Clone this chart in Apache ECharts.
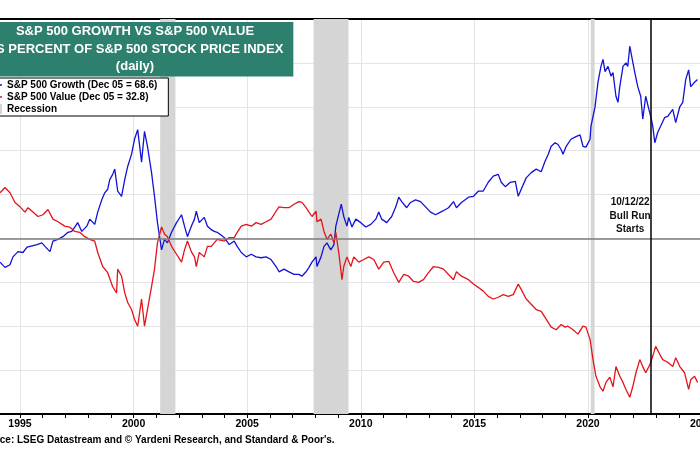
<!DOCTYPE html>
<html><head><meta charset="utf-8">
<script src="https://cdn.jsdelivr.net/npm/echarts@6/dist/echarts.min.js"></script>
<style>html,body{margin:0;padding:0;background:#fff}#c{width:700px;height:450px}</style>
</head><body><div id="c"></div>
<script>
// ---- data (decimal year, % of S&P 500 price index) ----
const growthName = 'S&P 500 Growth (Dec 05 = 68.6)';
const valueName = 'S&P 500 Value (Dec 05 = 32.8)';
const recessionName = 'Recession';
const titleLines = ['S&P 500 GROWTH VS S&P 500 VALUE', 'AS PERCENT OF S&P 500 STOCK PRICE INDEX', '(daily)'];
const sourceText = "Source: LSEG Datastream and \u00A9 Yardeni Research, and Standard & Poor's.";
const bullRunDate = 2022.78;
const bullRunLabel = ['10/12/22', 'Bull Run', 'Starts'];
const recessions = [[2001.17, 2001.84], [2007.92, 2009.46], [2020.12, 2020.29]];
const referenceLevel = 50;

const growth = [
[1994.12,47.3],[1994.34,46.7],[1994.56,47.0],[1994.69,47.9],[1994.91,48.5],[1995.13,48.4],[1995.31,49.0],[1995.75,49.3],[1995.96,49.5],[1996.10,49.1],[1996.32,48.5],[1996.45,49.7],[1996.67,49.9],[1996.89,50.2],[1997.11,50.7],[1997.28,50.8],[1997.41,51.3],[1997.54,51.8],[1997.72,50.8],[1997.94,51.4],[1998.07,52.2],[1998.29,51.6],[1998.42,53.0],[1998.60,54.4],[1998.73,55.2],[1998.86,55.6],[1998.95,56.7],[1999.08,57.3],[1999.17,57.9],[1999.25,58.1],[1999.30,55.4],[1999.47,54.8],[1999.61,56.7],[1999.74,58.2],[1999.91,59.6],[2000.04,61.3],[2000.18,62.4],[2000.35,58.7],[2000.48,62.2],[2000.61,60.5],[2000.79,57.5],[2000.92,54.8],[2001.05,51.8],[2001.23,48.7],[2001.36,49.9],[2001.49,49.5],[2001.67,50.7],[2001.89,51.8],[2002.11,52.7],[2002.24,51.4],[2002.37,50.2],[2002.54,51.4],[2002.68,52.2],[2002.76,53.1],[2002.89,51.8],[2003.11,52.4],[2003.25,51.4],[2003.42,51.0],[2003.55,50.8],[2003.68,50.7],
[2003.99,50.1],[2004.21,49.3],[2004.43,49.7],[2004.56,49.1],[2004.74,48.4],[2004.96,47.9],[2005.18,48.2],[2005.39,47.9],[2005.61,47.8],[2005.83,47.9],[2006.05,47.6],[2006.27,46.8],[2006.40,46.2],[2006.62,46.5],[2006.84,46.2],[2007.06,45.9],[2007.28,45.9],[2007.41,45.7],[2007.59,46.2],[2007.72,46.7],[2007.85,47.3],[2008.03,47.9],[2008.07,46.8],[2008.25,47.9],[2008.38,49.1],[2008.51,49.5],[2008.68,48.7],[2008.82,49.3],[2008.90,51.4],[2009.14,53.9],[2009.25,52.5],[2009.39,51.4],[2009.47,52.4],[2009.61,51.3],[2009.78,52.2],[2010.00,51.8],[2010.22,51.3],[2010.44,51.6],[2010.66,52.2],[2010.79,53.0],[2010.92,52.2],[2011.14,51.8],[2011.36,52.5],[2011.54,53.6],[2011.67,54.7],[2011.80,54.2],[2012.02,53.5],[2012.19,54.1],[2012.41,54.4],[2012.63,54.2],[2012.85,53.6],[2013.07,53.0],[2013.29,52.7],[2013.51,53.0],[2013.73,53.3],[2013.86,53.5],[2014.08,54.2],[2014.21,53.5],[2014.43,54.1],[2014.74,54.7],[2014.96,54.8],[2015.18,55.4],[2015.39,55.4],[2015.61,56.4],[2015.83,57.1],[2016.05,57.3],[2016.18,56.4],[2016.36,55.9],[2016.58,56.4],[2016.80,56.5],[2016.93,54.8],[2017.06,55.6],[2017.28,56.9],[2017.50,57.5],[2017.72,57.9],[2017.94,57.6],[2018.11,58.8],[2018.25,59.6],[2018.38,60.5],[2018.55,60.9],[2018.68,60.7],[2018.82,60.1],[2018.90,59.6],[2019.04,60.5],[2019.25,61.3],[2019.47,61.6],[2019.65,61.8],[2019.78,60.5],[2019.91,60.4],[2020.09,61.3],[2020.13,62.8],[2020.31,65.0],[2020.44,67.8],[2020.57,69.6],[2020.66,70.4],[2020.75,69.0],[2020.88,69.6],[2021.01,68.5],[2021.10,68.9],[2021.23,66.2],[2021.32,65.5],[2021.40,67.3],[2021.54,69.6],[2021.67,70.0],[2021.75,69.6],[2021.84,71.9],[2021.89,71.2],[2022.06,68.9],[2022.19,67.3],[2022.32,66.2],[2022.41,63.6],[2022.54,66.2],[2022.68,64.7],[2022.76,63.9],[2022.85,62.8],[2022.94,60.9],[2023.07,62.1],[2023.20,62.8],[2023.38,63.8],[2023.51,63.9],[2023.73,64.7],[2023.86,63.2],[2024.04,65.0],[2024.17,65.5],[2024.30,68.1],[2024.43,69.2],[2024.52,67.3],[2024.69,67.8],[2024.82,68.1]
];

const value = [
[1994.12,55.2],[1994.34,55.8],[1994.56,55.2],[1994.78,54.1],[1995.00,53.6],[1995.22,53.0],[1995.35,53.5],[1995.57,53.0],[1995.79,52.5],[1996.01,52.7],[1996.23,53.3],[1996.45,52.2],[1996.67,51.9],[1996.97,51.4],[1997.19,51.3],[1997.41,50.8],[1997.63,50.7],[1997.85,50.2],[1998.07,49.9],[1998.29,49.7],[1998.42,48.4],[1998.64,46.8],[1998.86,46.1],[1999.08,44.5],[1999.25,43.8],[1999.30,46.5],[1999.47,45.7],[1999.61,43.8],[1999.74,42.7],[1999.91,41.9],[2000.04,40.8],[2000.18,40.0],[2000.35,43.1],[2000.48,40.0],[2000.61,41.9],[2000.79,44.5],[2000.92,46.5],[2001.05,49.5],[2001.23,51.3],[2001.36,50.5],[2001.49,50.2],[2001.67,49.1],[2001.89,48.2],[2002.11,47.3],[2002.24,48.7],[2002.37,49.7],[2002.54,48.5],[2002.68,47.9],[2002.76,46.8],[2002.89,48.4],[2003.11,47.9],[2003.25,49.1],[2003.42,49.1],[2003.55,49.5],[2003.68,49.9],
[2003.99,49.7],[2004.21,50.1],[2004.43,50.1],[2004.56,50.7],[2004.74,51.4],[2004.96,51.6],[2005.18,51.4],[2005.39,51.8],[2005.61,51.6],[2005.83,51.9],[2006.05,52.2],[2006.27,53.1],[2006.40,53.6],[2006.62,53.5],[2006.84,53.5],[2007.06,53.9],[2007.28,54.2],[2007.41,54.1],[2007.59,53.5],[2007.72,53.0],[2007.85,52.5],[2008.03,53.1],[2008.07,51.9],[2008.25,52.2],[2008.38,50.8],[2008.51,49.9],[2008.68,50.5],[2008.82,49.5],[2008.90,50.7],[2009.04,48.2],[2009.17,45.3],[2009.25,46.8],[2009.39,47.9],[2009.56,46.8],[2009.69,47.9],[2009.91,47.3],[2010.13,47.6],[2010.35,47.9],[2010.57,47.6],[2010.79,46.5],[2011.01,47.3],[2011.23,47.4],[2011.45,46.1],[2011.67,45.0],[2011.89,45.9],[2012.11,45.7],[2012.32,45.1],[2012.54,45.0],[2012.76,45.3],[2012.98,46.1],[2013.20,46.8],[2013.42,46.7],[2013.64,46.5],[2013.86,45.9],[2014.08,45.3],[2014.21,46.2],[2014.43,45.7],[2014.74,45.3],[2014.96,44.8],[2015.18,44.4],[2015.39,44.0],[2015.61,43.4],[2015.83,43.1],[2016.05,43.3],[2016.27,43.6],[2016.49,43.4],[2016.71,43.6],[2016.93,44.8],[2017.06,44.2],[2017.28,43.1],[2017.50,42.5],[2017.72,41.9],[2017.94,41.7],[2018.16,40.8],[2018.38,39.9],[2018.60,39.6],[2018.82,40.2],[2018.99,39.9],[2019.12,40.0],[2019.34,39.6],[2019.56,39.1],[2019.78,40.0],[2019.91,39.9],[2020.09,38.5],[2020.22,36.2],[2020.35,34.3],[2020.53,33.1],[2020.66,32.6],[2020.79,33.6],[2020.96,34.2],[2021.10,33.1],[2021.23,35.4],[2021.40,34.3],[2021.54,33.6],[2021.67,32.8],[2021.84,31.9],[2021.97,33.1],[2022.11,34.7],[2022.28,36.2],[2022.41,35.4],[2022.54,34.7],[2022.72,35.6],[2022.85,36.6],[2022.98,37.7],[2023.16,36.8],[2023.29,36.2],[2023.51,35.9],[2023.73,35.4],[2023.86,36.4],[2024.04,35.4],[2024.25,34.7],[2024.43,32.8],[2024.52,33.9],[2024.69,34.3],[2024.82,33.6]
];

// ---- chart ----
const FONT = '"Liberation Sans", Arial, Helvetica, sans-serif';
const BLUE = '#1212d8';
const RED = '#e3141c';
const GREY = '#d5d5d5';
// thin dash icon (tiny invisible sliver keeps the 10x10 box so the dash stays thin)
const DASH_ICON = 'path://M0,4.2 L10,4.2 L10,5.8 L0,5.8 Z M0,0 L0.01,0 L0.01,10 L0,10 Z';
const chart = echarts.init(document.getElementById('c'), null, { renderer: 'canvas' });
chart.setOption({
  animation: false,
  backgroundColor: '#fff',
  textStyle: { fontFamily: FONT },
  title: {
    text: titleLines.join('\n'),
    left: 125, top: 22, textAlign: 'center',
    padding: [1, 10, 1, 10],
    backgroundColor: '#2d7f6e',
    textStyle: { color: '#fff', fontSize: 13, fontWeight: 'bold', lineHeight: 17.5, fontFamily: FONT }
  },
  legend: {
    orient: 'vertical', left: -12, top: 78,
    padding: [2, 11, 2, 4], itemGap: 2, itemWidth: 10, itemHeight: 10,
    borderColor: '#000', borderWidth: 1, backgroundColor: '#fff',
    selectedMode: false,
    textStyle: { fontSize: 10, fontWeight: 'bold', color: '#000', fontFamily: FONT },
    data: [
      { name: growthName, icon: DASH_ICON, itemStyle: { color: BLUE } },
      { name: valueName, icon: DASH_ICON, itemStyle: { color: RED } },
      { name: recessionName, icon: 'rect', itemStyle: { color: GREY } }
    ]
  },
  grid: { left: -93.6, right: -115.2, top: 19, bottom: 36, containLabel: false, outerBoundsMode: 'none' },
  xAxis: [{
    type: 'value', min: 1990, max: 2030, interval: 5,
    axisLine: { lineStyle: { color: '#000', width: 2 } },
    axisTick: { show: true, length: 4, lineStyle: { color: '#000' } },
    minorTick: { show: true, splitNumber: 5, length: 4, lineStyle: { color: '#000' } },
    splitLine: { show: true, lineStyle: { color: '#e4e4e4' } },
    axisLabel: { margin: 5, color: '#000', fontSize: 10.5, fontWeight: 'bold', fontFamily: FONT,
      formatter: v => (v >= 1995 && v <= 2025) ? String(v) : '' }
  }, {
    type: 'value', position: 'top', min: 1990, max: 2030, interval: 5,
    axisLine: { show: true, lineStyle: { color: '#000', width: 2 } },
    axisTick: { show: false }, axisLabel: { show: false }, splitLine: { show: false }
  }],
  yAxis: {
    type: 'value', min: 30, max: 75, interval: 5,
    axisLine: { show: false }, axisTick: { show: false }, axisLabel: { show: false },
    splitLine: { lineStyle: { color: '#e4e4e4' } }
  },
  series: [{
    name: recessionName, type: 'line', data: [], z: 1,
    color: GREY, itemStyle: { color: GREY },
    markArea: { silent: true, itemStyle: { color: GREY },
      data: recessions.map(r => [{ xAxis: r[0] }, { xAxis: r[1] }]) },
    markLine: { silent: true, symbol: 'none', label: { show: false },
      lineStyle: { color: '#7c7c7c', width: 1.5, type: 'solid' },
      data: [{ yAxis: referenceLevel }] }
  }, {
    name: growthName, type: 'line', data: growth, z: 3,
    showSymbol: false, symbol: 'none', color: BLUE,
    lineStyle: { color: BLUE, width: 1.3 },
    markLine: { silent: true, symbol: 'none', label: { show: false },
      lineStyle: { color: '#000', width: 1.5, type: 'solid' },
      data: [{ xAxis: bullRunDate }] },
    markPoint: { silent: true, symbol: 'circle', symbolSize: 0,
      label: { show: true, position: 'inside', offset: [-21, 0], align: 'center', verticalAlign: 'middle',
        formatter: bullRunLabel.join('\n'), color: '#111', fontSize: 10, fontWeight: 'bold', lineHeight: 13.5, fontFamily: FONT },
      data: [{ coord: [bullRunDate, 52.56] }] }
  }, {
    name: valueName, type: 'line', data: value, z: 3,
    showSymbol: false, symbol: 'none', color: RED,
    lineStyle: { color: RED, width: 1.3 }
  }],
  graphic: [{
    type: 'text', x: -23, y: 435, silent: true,
    style: { text: sourceText, fill: '#000', font: 'bold 10px ' + FONT, verticalAlign: 'top' }
  }]
});
</script>
</body></html>
